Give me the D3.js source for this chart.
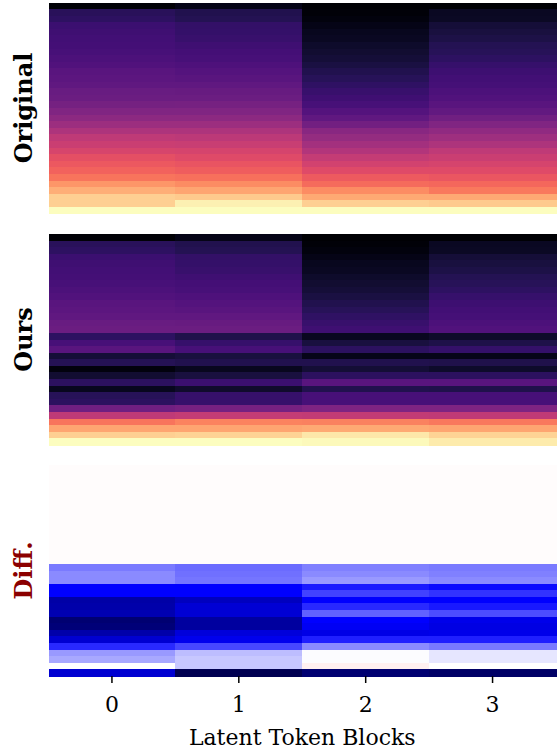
<!DOCTYPE html>
<html lang="en">
<head>
  <meta charset="UTF-8" />
  <title>Latent Token Blocks Heatmaps</title>
  <script src="https://d3js.org/d3.v7.min.js"></script>
  <style>
    body {
      margin: 0;
      background: #fff;
    }
    svg {
      display: block;
    }
    text {
      font-family: 'DejaVu Serif', serif;
      fill: #000;
    }
    .rowlabel {
      font-size: 24px;
      font-weight: bold;
    }
    .tick text {
      font-size: 22px;
    }
  </style>
</head>
<body>
  <svg id="chart"></svg>

  <script>
    // column categories
    const blocks = [0, 1, 2, 3];

    // each row = [block0, block1, block2, block3], magma scale 0..1
    const original = [
      [0.01, 0.04, 0.0, 0.0],
      [0.16, 0.14, 0.015, 0.065],
      [0.17, 0.145, 0.025, 0.07],
      [0.2, 0.18, 0.04, 0.105],
      [0.21, 0.185, 0.055, 0.115],
      [0.215, 0.195, 0.065, 0.125],
      [0.22, 0.21, 0.08, 0.145],
      [0.23, 0.22, 0.09, 0.155],
      [0.24, 0.23, 0.105, 0.17],
      [0.25, 0.245, 0.12, 0.19],
      [0.27, 0.26, 0.14, 0.205],
      [0.28, 0.27, 0.155, 0.215],
      [0.29, 0.29, 0.175, 0.225],
      [0.31, 0.305, 0.195, 0.24],
      [0.32, 0.32, 0.21, 0.25],
      [0.34, 0.345, 0.23, 0.27],
      [0.37, 0.37, 0.26, 0.295],
      [0.40, 0.40, 0.29, 0.33],
      [0.44, 0.44, 0.335, 0.37],
      [0.48, 0.48, 0.39, 0.41],
      [0.52, 0.515, 0.42, 0.445],
      [0.55, 0.545, 0.455, 0.48],
      [0.58, 0.575, 0.49, 0.52],
      [0.62, 0.605, 0.535, 0.55],
      [0.645, 0.635, 0.57, 0.575],
      [0.67, 0.66, 0.605, 0.605],
      [0.71, 0.70, 0.65, 0.64],
      [0.78, 0.76, 0.69, 0.68],
      [0.83, 0.81, 0.76, 0.72],
      [0.90, 0.89, 0.82, 0.82],
      [0.90, 0.97, 0.90, 0.89],
      [1.0, 1.0, 1.0, 1.0]
    ];

    const ours = [
      [0.01, 0.04, 0.0, 0.0],
      [0.16, 0.14, 0.015, 0.065],
      [0.17, 0.145, 0.025, 0.07],
      [0.2, 0.18, 0.04, 0.105],
      [0.21, 0.185, 0.055, 0.115],
      [0.215, 0.195, 0.065, 0.125],
      [0.22, 0.21, 0.08, 0.145],
      [0.23, 0.22, 0.09, 0.155],
      [0.24, 0.23, 0.105, 0.17],
      [0.25, 0.245, 0.12, 0.19],
      [0.27, 0.26, 0.14, 0.205],
      [0.28, 0.27, 0.155, 0.215],
      [0.29, 0.29, 0.175, 0.225],
      [0.31, 0.305, 0.195, 0.24],
      [0.32, 0.32, 0.21, 0.25],
      [0.17, 0.135, 0.06, 0.08],
      [0.23, 0.19, 0.115, 0.13],
      [0.27, 0.23, 0.165, 0.185],
      [0.105, 0.115, 0.045, 0.045],
      [0.15, 0.14, 0.14, 0.135],
      [0.025, 0.055, 0.1, 0.08],
      [0.09, 0.115, 0.165, 0.165],
      [0.165, 0.2, 0.27, 0.27],
      [0.055, 0.085, 0.14, 0.135],
      [0.155, 0.19, 0.23, 0.23],
      [0.165, 0.19, 0.23, 0.23],
      [0.33, 0.345, 0.365, 0.365],
      [0.52, 0.535, 0.53, 0.525],
      [0.71, 0.74, 0.735, 0.715],
      [0.81, 0.81, 0.82, 0.81],
      [0.9, 0.91, 0.95, 0.91],
      [1.0, 1.0, 0.99, 0.96]
    ];

    // signed difference, seismic scale -1..1
    const diff = [
      [0.006, 0.006, 0.006, 0.006],
      [0.006, 0.006, 0.006, 0.006],
      [0.006, 0.006, 0.006, 0.006],
      [0.006, 0.006, 0.006, 0.006],
      [0.006, 0.006, 0.006, 0.006],
      [0.006, 0.006, 0.006, 0.006],
      [0.006, 0.006, 0.006, 0.006],
      [0.006, 0.006, 0.006, 0.006],
      [0.006, 0.006, 0.006, 0.006],
      [0.006, 0.006, 0.006, 0.006],
      [0.006, 0.006, 0.006, 0.006],
      [0.006, 0.006, 0.006, 0.006],
      [0.006, 0.006, 0.006, 0.006],
      [0.006, 0.006, 0.006, 0.006],
      [0.006, 0.006, 0.006, 0.006],
      [-0.26, -0.29, -0.25, -0.26],
      [-0.23, -0.28, -0.23, -0.25],
      [-0.23, -0.27, -0.2, -0.23],
      [-0.5, -0.5, -0.45, -0.48],
      [-0.5, -0.5, -0.37, -0.4],
      [-0.75, -0.68, -0.5, -0.5],
      [-0.74, -0.62, -0.42, -0.45],
      [-0.72, -0.62, -0.31, -0.35],
      [-0.9, -0.77, -0.5, -0.56],
      [-0.88, -0.77, -0.53, -0.58],
      [-0.74, -0.6, -0.57, -0.56],
      [-0.63, -0.55, -0.44, -0.44],
      [-0.42, -0.36, -0.23, -0.26],
      [-0.2, -0.13, -0.005, -0.05],
      [-0.17, -0.11, -0.005, -0.05],
      [0.0, -0.11, 0.03, 0.0],
      [-0.63, -0.99, -0.9, -0.93]
    ];

    const width = 557, height = 751;
    const svg = d3.select("#chart").attr("width", width).attr("height", height);

    const magma = d3.scaleSequential(d3.interpolateMagma).domain([0, 1]);
    const seismic = d3.scaleLinear()
      .domain([-1, -0.5, 0, 0.5, 1])
      .range(["#00004d", "#0000ff", "#ffffff", "#ff0000", "#800000"]);

    const x = d3.scaleBand().domain(blocks).range([48.5, 556]);

    const panels = [
      { name: "Original", data: original, color: magma, top: 2.5, labelColor: "#000" },
      { name: "Ours", data: ours, color: magma, top: 234, labelColor: "#000" },
      { name: "Diff.", data: diff, color: seismic, top: 465, labelColor: "#8b0000" }
    ];
    const panelH = 211;

    panels.forEach(p => {
      const y = d3.scaleBand().domain(d3.range(p.data.length)).range([p.top, p.top + panelH]);
      const cells = [];
      p.data.forEach((row, r) => row.forEach((v, c) => cells.push({ r, c, v })));

      svg.append("g")
        .attr("shape-rendering", "crispEdges")
        .selectAll("rect")
        .data(cells)
        .join("rect")
        .attr("x", d => x(d.c))
        .attr("y", d => y(d.r))
        .attr("width", x.bandwidth() + 0.5)
        .attr("height", y.bandwidth() + 0.5)
        .attr("fill", d => p.color(d.v));

      svg.append("text")
        .attr("class", "rowlabel")
        .attr("transform", `translate(32,${p.top + panelH / 2}) rotate(-90)`)
        .attr("text-anchor", "middle")
        .style("fill", p.labelColor)
        .text(p.name);
    });

    // x axis under the last panel
    const axisY = panels[2].top + panelH;
    const axis = svg.append("g")
      .attr("transform", `translate(0,${axisY})`)
      .call(d3.axisBottom(x).tickSize(7).tickPadding(13));
    axis.select(".domain").remove();
    axis.selectAll(".tick line").attr("stroke", "#000").attr("stroke-width", 1.5);
    axis.selectAll(".tick text").style("font-family", "'DejaVu Serif', serif");

    svg.append("text")
      .attr("x", (x.range()[0] + x.range()[1]) / 2)
      .attr("y", 745)
      .attr("text-anchor", "middle")
      .style("font-size", "22px")
      .text("Latent Token Blocks");
  </script>
</body>
</html>
